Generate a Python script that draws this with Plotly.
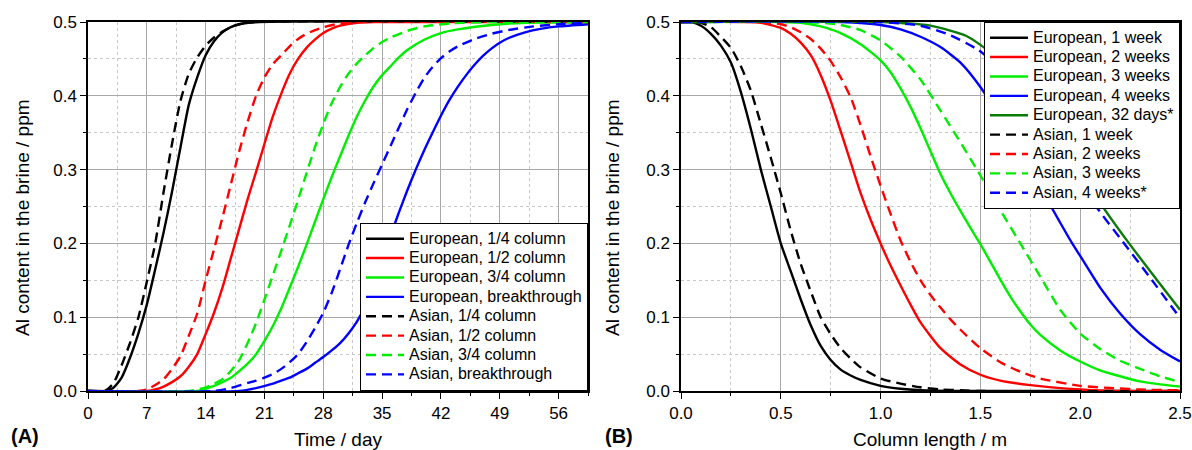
import plotly.graph_objects as go

# ---------------- Panel A: Al in brine vs. time (days) ----------------
days_eu_q = [0, 2, 3, 4, 5, 6, 7, 8, 9, 10, 11, 12, 13, 14, 15, 16, 17, 18, 20, 59.5]
al_eu_q = [0, 0, 0.004, 0.018, 0.045, 0.078, 0.117, 0.165, 0.215, 0.27, 0.33, 0.388, 0.425,
           0.455, 0.474, 0.486, 0.493, 0.497, 0.5, 0.5]

days_eu_h = [0, 7, 8, 9, 10, 11, 12, 13, 14, 15, 16, 17, 18, 19, 20, 21, 22, 23, 24, 25, 26,
             27, 28, 29, 30, 32, 34, 59.5]
al_eu_h = [0, 0, 0.002, 0.006, 0.012, 0.02, 0.033, 0.05, 0.077, 0.106, 0.14, 0.18, 0.22, 0.26,
           0.297, 0.335, 0.372, 0.403, 0.43, 0.45, 0.465, 0.476, 0.485, 0.491, 0.495, 0.499, 0.5, 0.5]

days_eu_3q = [0, 13, 14, 15, 16, 17, 18, 19, 20, 21, 22, 23, 24, 25, 26, 27, 28, 29, 30, 31, 32,
              33, 34, 35, 36, 37, 38, 40, 42, 44, 48, 52, 59.5]
al_eu_3q = [0, 0, 0.003, 0.007, 0.012, 0.018, 0.027, 0.037, 0.05, 0.068, 0.088, 0.112, 0.14,
            0.168, 0.198, 0.229, 0.26, 0.29, 0.318, 0.346, 0.372, 0.394, 0.413, 0.428, 0.44,
            0.452, 0.462, 0.476, 0.485, 0.49, 0.496, 0.499, 0.5]

days_eu_bt = [0, 18, 20, 22, 23, 24, 25, 26, 27, 28, 29, 30, 31, 32, 33, 34, 35, 36, 37, 38, 39,
              40, 41, 42, 43, 44, 45, 46, 47, 48, 49, 50, 52, 54, 56, 59.5]
al_eu_bt = [0, 0, 0.004, 0.01, 0.014, 0.018, 0.024, 0.03, 0.038, 0.046, 0.055, 0.065, 0.078,
            0.094, 0.115, 0.142, 0.175, 0.21, 0.242, 0.272, 0.3, 0.326, 0.35, 0.373, 0.394,
            0.412, 0.428, 0.442, 0.454, 0.464, 0.472, 0.478, 0.486, 0.491, 0.494, 0.497]

days_as_q = [0, 2, 3, 4, 5, 6, 7, 8, 9, 10, 11, 12, 13, 14, 15, 16, 17, 18, 20, 59.5]
al_as_q = [0, 0, 0.01, 0.035, 0.065, 0.1, 0.148, 0.2, 0.27, 0.335, 0.393, 0.43, 0.452, 0.468,
           0.479, 0.487, 0.493, 0.497, 0.5, 0.5]

days_as_h = [0, 6, 7, 8, 9, 10, 11, 12, 13, 14, 15, 16, 17, 18, 19, 20, 21, 22, 23, 24, 25, 26,
             27, 28, 30, 32, 59.5]
al_as_h = [0, 0, 0.002, 0.008, 0.016, 0.03, 0.047, 0.075, 0.105, 0.15, 0.192, 0.235, 0.28, 0.325,
           0.365, 0.4, 0.425, 0.443, 0.455, 0.467, 0.477, 0.484, 0.489, 0.493, 0.498, 0.5, 0.5]

days_as_3q = [0, 12, 13, 14, 15, 16, 17, 18, 19, 20, 21, 22, 23, 24, 25, 26, 27, 28, 29, 30, 31,
              32, 33, 34, 35, 36, 38, 40, 43, 48, 59.5]
al_as_3q = [0, 0, 0.002, 0.005, 0.01, 0.016, 0.027, 0.042, 0.065, 0.092, 0.124, 0.157, 0.19,
            0.224, 0.259, 0.295, 0.33, 0.362, 0.39, 0.412, 0.43, 0.444, 0.455, 0.465, 0.473,
            0.479, 0.488, 0.494, 0.498, 0.5, 0.5]

days_as_bt = [0, 15, 17, 19, 20, 21, 22, 23, 24, 25, 26, 27, 28, 29, 30, 31, 32, 33, 34, 35, 36,
              37, 38, 39, 40, 41, 42, 43, 44, 46, 48, 50, 53, 56, 59.5]
al_as_bt = [0, 0, 0.004, 0.011, 0.014, 0.018, 0.023, 0.03, 0.039, 0.05, 0.066, 0.085, 0.106,
            0.133, 0.165, 0.198, 0.228, 0.256, 0.282, 0.307, 0.332, 0.357, 0.382, 0.404, 0.424,
            0.439, 0.451, 0.46, 0.467, 0.477, 0.484, 0.489, 0.494, 0.497, 0.499]

# ---------------- Panel B: Al in brine vs. column length (m) ----------------
len_eu_1w = [0, 0.05, 0.1, 0.15, 0.2, 0.25, 0.3, 0.35, 0.4, 0.45, 0.5, 0.55, 0.6, 0.65, 0.7,
             0.75, 0.8, 0.85, 0.9, 1.0, 1.1, 1.2, 1.4, 2.5]
al_eu_1w = [0.5, 0.5, 0.495, 0.484, 0.468, 0.445, 0.405, 0.355, 0.3, 0.25, 0.2, 0.162, 0.124,
            0.089, 0.061, 0.042, 0.029, 0.021, 0.015, 0.007, 0.003, 0.001, 0, 0]

len_eu_2w = [0, 0.3, 0.4, 0.5, 0.55, 0.6, 0.65, 0.7, 0.75, 0.8, 0.85, 0.9, 0.95, 1.0, 1.05,
             1.1, 1.15, 1.2, 1.3, 1.4, 1.5, 1.6, 1.75, 2.0, 2.2, 2.5]
al_eu_2w = [0.5, 0.5, 0.499, 0.492, 0.484, 0.472, 0.455, 0.428, 0.393, 0.352, 0.31, 0.268,
            0.232, 0.2, 0.17, 0.143, 0.117, 0.093, 0.058, 0.036, 0.022, 0.014, 0.008, 0.002, 0, 0]

len_eu_3w = [0, 0.5, 0.6, 0.7, 0.8, 0.9, 1.0, 1.05, 1.1, 1.15, 1.2, 1.25, 1.3, 1.35, 1.4, 1.45,
             1.5, 1.55, 1.6, 1.65, 1.7, 1.75, 1.8, 1.9, 2.0, 2.1, 2.2, 2.3, 2.4, 2.5]
al_eu_3w = [0.5, 0.5, 0.499, 0.494, 0.485, 0.47, 0.448, 0.432, 0.41, 0.385, 0.356, 0.325, 0.294,
            0.268, 0.244, 0.221, 0.199, 0.175, 0.151, 0.128, 0.108, 0.09, 0.076, 0.055, 0.04,
            0.028, 0.02, 0.013, 0.009, 0.006]

len_eu_4w = [0, 0.8, 1.0, 1.1, 1.2, 1.3, 1.4, 1.5, 1.6, 1.7, 1.8, 1.85, 1.9, 1.96, 2.0, 2.1,
             2.2, 2.3, 2.4, 2.5]
al_eu_4w = [0.5, 0.5, 0.496, 0.49, 0.48, 0.466, 0.445, 0.412, 0.37, 0.325, 0.28, 0.252, 0.228,
            0.2, 0.183, 0.14, 0.105, 0.077, 0.056, 0.04]

len_eu_32d = [0, 1.0, 1.25, 1.43, 1.5, 1.6, 1.7, 1.8, 1.9, 2.0, 2.1, 2.245, 2.4, 2.5]
al_eu_32d = [0.5, 0.5, 0.495, 0.481, 0.469, 0.448, 0.42, 0.385, 0.345, 0.3, 0.255, 0.2, 0.145, 0.11]

len_as_1w = [0, 0.05, 0.1, 0.15, 0.2, 0.25, 0.3, 0.35, 0.4, 0.45, 0.5, 0.55, 0.6, 0.65, 0.7,
             0.75, 0.8, 0.85, 0.9, 1.0, 1.1, 1.2, 1.3, 1.4, 1.5, 2.5]
al_as_1w = [0.5, 0.5, 0.499, 0.493, 0.48, 0.465, 0.44, 0.407, 0.362, 0.316, 0.268, 0.217, 0.172,
            0.135, 0.1, 0.077, 0.058, 0.044, 0.032, 0.017, 0.01, 0.005, 0.002, 0.001, 0, 0]

len_as_2w = [0, 0.4, 0.5, 0.55, 0.6, 0.65, 0.7, 0.75, 0.8, 0.85, 0.9, 0.95, 1.0, 1.05, 1.1,
             1.15, 1.2, 1.25, 1.3, 1.35, 1.4, 1.5, 1.6, 1.7, 1.8, 2.0, 2.3, 2.5]
al_as_2w = [0.5, 0.5, 0.497, 0.493, 0.486, 0.477, 0.464, 0.447, 0.425, 0.398, 0.36, 0.318,
            0.278, 0.24, 0.204, 0.175, 0.15, 0.13, 0.113, 0.097, 0.083, 0.058, 0.039, 0.026,
            0.017, 0.007, 0.002, 0.001]

len_as_3w = [0, 0.6, 0.7, 0.8, 0.9, 1.0, 1.1, 1.2, 1.3, 1.4, 1.5, 1.6, 1.7, 1.8, 1.9, 2.0, 2.1,
             2.2, 2.3, 2.4, 2.5]
al_as_3w = [0.5, 0.5, 0.499, 0.496, 0.489, 0.475, 0.453, 0.422, 0.38, 0.337, 0.292, 0.245, 0.2,
            0.155, 0.11, 0.078, 0.057, 0.041, 0.03, 0.02, 0.012]

len_as_4w = [0, 1.0, 1.2, 1.35, 1.49, 1.6, 1.7, 1.8, 1.9, 2.0, 2.08, 2.22, 2.36, 2.5]
al_as_4w = [0.5, 0.5, 0.495, 0.482, 0.462, 0.437, 0.407, 0.37, 0.33, 0.287, 0.25, 0.2, 0.15, 0.099]

BLACK, RED, GREEN, BLUE, DKGREEN = "#000000", "#ff0000", "#00ee00", "#0000ff", "#0a7a0a"
DASH = "10px,6px"
LW = 2.4
LEG_TXT = '<span style="font-size:16px">{}</span>'

panel_a = [
    ("European, 1/4 column", days_eu_q, al_eu_q, BLACK, "solid"),
    ("European, 1/2 column", days_eu_h, al_eu_h, RED, "solid"),
    ("European, 3/4 column", days_eu_3q, al_eu_3q, GREEN, "solid"),
    ("European, breakthrough", days_eu_bt, al_eu_bt, BLUE, "solid"),
    ("Asian, 1/4 column", days_as_q, al_as_q, BLACK, DASH),
    ("Asian, 1/2 column", days_as_h, al_as_h, RED, DASH),
    ("Asian, 3/4 column", days_as_3q, al_as_3q, GREEN, DASH),
    ("Asian, breakthrough", days_as_bt, al_as_bt, BLUE, DASH),
]

panel_b = [
    ("European, 1 week", len_eu_1w, al_eu_1w, BLACK, "solid"),
    ("European, 2 weeks", len_eu_2w, al_eu_2w, RED, "solid"),
    ("European, 3 weeks", len_eu_3w, al_eu_3w, GREEN, "solid"),
    ("European, 4 weeks", len_eu_4w, al_eu_4w, BLUE, "solid"),
    ("European, 32 days*", len_eu_32d, al_eu_32d, DKGREEN, "solid"),
    ("Asian, 1 week", len_as_1w, al_as_1w, BLACK, DASH),
    ("Asian, 2 weeks", len_as_2w, al_as_2w, RED, DASH),
    ("Asian, 3 weeks", len_as_3w, al_as_3w, GREEN, DASH),
    ("Asian, 4 weeks*", len_as_4w, al_as_4w, BLUE, DASH),
]

fig = go.Figure()
for name, xs, ys, col, dash in panel_a:
    fig.add_trace(go.Scatter(x=xs, y=ys, name=LEG_TXT.format(name), mode="lines",
                             line=dict(color=col, width=LW, dash=dash, shape="spline", smoothing=0.6),
                             xaxis="x", yaxis="y", legend="legend"))
for name, xs, ys, col, dash in panel_b:
    fig.add_trace(go.Scatter(x=xs, y=ys, name=LEG_TXT.format(name), mode="lines",
                             line=dict(color=col, width=LW, dash=dash, shape="spline", smoothing=0.6),
                             xaxis="x2", yaxis="y2", legend="legend2"))

W, H = 1192, 450
FONT = "Liberation Sans, Arial, sans-serif"
AX_L = (88 / W, 588 / W)
AX_R = (681 / W, 1180 / W)
AX_Y = ((H - 391) / H, (H - 22) / H)

grid = dict(showgrid=True, gridcolor="#a8a8a8", gridwidth=1)
minor_grid = dict(showgrid=True, gridcolor="#c8c8c8", griddash="dot", gridwidth=1,
                  ticks="outside", ticklen=3, tickcolor="black")
frame = dict(showline=True, linecolor="black", linewidth=1.5, mirror=True,
             ticks="outside", ticklen=6, tickwidth=1.2, tickcolor="black",
             tickfont=dict(size=17, color="black", family=FONT), zeroline=False)
inside = dict(ticks="inside", ticklen=4, tickwidth=1, tickcolor="black",
              showticklabels=False, showgrid=False, showline=False, zeroline=False)
leg = dict(bgcolor="white", bordercolor="black", borderwidth=1, itemwidth=38,
           font=dict(size=12.6, family=FONT, color="black"), tracegroupgap=0, itemclick=False)

fig.update_layout(
    width=W, height=H, margin=dict(l=0, r=0, t=0, b=0, autoexpand=False),
    paper_bgcolor="white", plot_bgcolor="white",
    font=dict(family=FONT, color="black"),
    xaxis=dict(domain=AX_L, anchor="y", range=[0, 59.5], tick0=0, dtick=7,
               minor=dict(dtick=3.5, **minor_grid), **grid, **frame),
    yaxis=dict(domain=AX_Y, anchor="x", range=[0, 0.5], dtick=0.1, tickformat=".1f",
               minor=dict(dtick=0.05, **minor_grid), **grid, **frame),
    xaxis2=dict(domain=AX_R, anchor="y2", range=[0, 2.5], dtick=0.5, tickformat=".1f",
                minor=dict(dtick=0.25, **minor_grid), **grid, **frame),
    yaxis2=dict(domain=AX_Y, anchor="x2", range=[0, 0.5], dtick=0.1, tickformat=".1f",
                minor=dict(dtick=0.05, **minor_grid), **grid, **frame),
    # inward ticks on the top and right edges of each frame
    xaxis3=dict(overlaying="x", anchor="y", side="top", range=[0, 59.5], tick0=0, dtick=3.5, **inside),
    yaxis3=dict(overlaying="y", anchor="x", side="right", range=[0, 0.5], dtick=0.05, **inside),
    xaxis4=dict(overlaying="x2", anchor="y2", side="top", range=[0, 2.5], dtick=0.25, **inside),
    yaxis4=dict(overlaying="y2", anchor="x2", side="right", range=[0, 0.5], dtick=0.05, **inside),
    legend=dict(x=588 / W, xanchor="right", y=(H - 391) / H, yanchor="bottom", **leg),
    legend2=dict(x=1180 / W, xanchor="right", y=(H - 22) / H, yanchor="top", **leg),
    showlegend=True,
)

title_font = dict(size=19, family=FONT, color="black")
annotations = [
    dict(text="Time / day", x=338 / W, y=(H - 439) / H, xanchor="center", yanchor="middle", font=title_font),
    dict(text="Column length / m", x=930 / W, y=(H - 439) / H, xanchor="center", yanchor="middle", font=title_font),
    dict(text="Al content in the brine / ppm", x=22 / W, y=(H - 218) / H, textangle=-90,
         xanchor="center", yanchor="middle", font=title_font),
    dict(text="Al content in the brine / ppm", x=612 / W, y=(H - 218) / H, textangle=-90,
         xanchor="center", yanchor="middle", font=title_font),
    dict(text="<b>(A)</b>", x=9 / W, y=(H - 436) / H, xanchor="left", yanchor="middle",
         font=dict(size=20, family=FONT, color="black")),
    dict(text="<b>(B)</b>", x=603 / W, y=(H - 436) / H, xanchor="left", yanchor="middle",
         font=dict(size=20, family=FONT, color="black")),
]
for a in annotations:
    fig.add_annotation(xref="paper", yref="paper", showarrow=False, **a)

fig.write_html("out.html")
